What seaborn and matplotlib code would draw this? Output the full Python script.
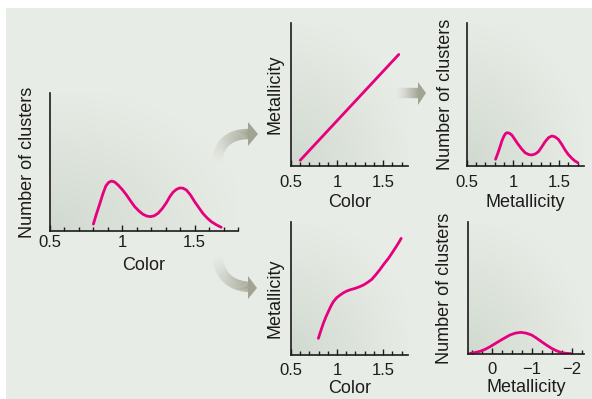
import numpy as np
import pandas as pd
import matplotlib
matplotlib.use("Agg")
import matplotlib.pyplot as plt
import seaborn as sns
from matplotlib.ticker import MultipleLocator
from matplotlib.patches import Rectangle, Polygon
from matplotlib.collections import LineCollection

# ---- data ----
# left panel: number of clusters vs color (bimodal)
color_left = [0.80, 0.82, 0.845, 0.866, 0.886, 0.905, 0.925, 0.947, 0.971, 1.0, 1.029,
              1.057, 1.086, 1.115, 1.143, 1.17, 1.194, 1.22, 1.247, 1.276, 1.305, 1.328,
              1.350, 1.375, 1.397, 1.42, 1.443, 1.472, 1.50, 1.53, 1.557, 1.587, 1.615,
              1.65, 1.684]
count_left = [0.05, 0.12, 0.20, 0.27, 0.326, 0.352, 0.362, 0.355, 0.333, 0.30, 0.261,
              0.218, 0.176, 0.145, 0.121, 0.108, 0.104, 0.110, 0.128, 0.162, 0.205, 0.248,
              0.280, 0.302, 0.312, 0.310, 0.297, 0.260, 0.213, 0.168, 0.128, 0.094, 0.068,
              0.045, 0.027]

# top middle: linear color-metallicity relation
color_lin = [0.60, 1.67]
metal_lin = [0.04, 0.78]

# top right: metallicity distribution (bimodal)
metal_top = [0.81, 0.835, 0.859, 0.88, 0.902, 0.92, 0.938, 0.96, 0.986, 1.015, 1.047,
             1.09, 1.13, 1.17, 1.203, 1.24, 1.275, 1.31, 1.348, 1.385, 1.42, 1.455,
             1.492, 1.53, 1.565, 1.60, 1.638, 1.67, 1.703]
count_top = [0.047, 0.09, 0.135, 0.178, 0.21, 0.228, 0.233, 0.229, 0.217, 0.19, 0.159,
             0.122, 0.093, 0.080, 0.077, 0.084, 0.10, 0.132, 0.17, 0.198, 0.21, 0.204,
             0.186, 0.15, 0.112, 0.08, 0.054, 0.036, 0.023]

# bottom middle: nonlinear color-metallicity relation
color_nl = [0.797, 0.825, 0.851, 0.878, 0.905, 0.932, 0.96, 0.995, 1.033, 1.07, 1.105,
            1.15, 1.196, 1.24, 1.286, 1.33, 1.377, 1.42, 1.467, 1.51, 1.558, 1.595,
            1.63, 1.665, 1.696]
metal_nl = [0.125, 0.185, 0.238, 0.285, 0.326, 0.366, 0.401, 0.43, 0.451, 0.468, 0.481,
            0.492, 0.501, 0.512, 0.526, 0.545, 0.569, 0.603, 0.644, 0.685, 0.727, 0.765,
            0.802, 0.84, 0.877]

# bottom right: metallicity distribution (unimodal)
metal_bot = [0.55, 0.425, 0.30, 0.175, 0.05, -0.075, -0.20, -0.325, -0.45, -0.58, -0.72,
             -0.855, -0.99, -1.115, -1.24, -1.365, -1.49, -1.615, -1.74, -1.855, -1.97]
count_bot = [0.004, 0.011, 0.02, 0.035, 0.055, 0.078, 0.101, 0.123, 0.144, 0.158, 0.164,
             0.158, 0.144, 0.12, 0.093, 0.067, 0.043, 0.024, 0.01, 0.005, 0.003]

color_ticks = [0.5, 1.0, 1.5]
color_labels = ["0.5", "1", "1.5"]
metal_ticks = [0, -1, -2]
metal_labels = ["0", "\u22121", "\u22122"]

BG = "#e8ece6"
SHADE = "#d0d9cf"
PINK = "#e6007e"
INK = "#1c1c1c"
ARROW = "#a2a493"

sns.set_style("ticks")
plt.rcParams["font.family"] = ["Liberation Sans", "DejaVu Sans"]

W, H = 592, 399
fig = plt.figure(figsize=(W / 100, H / 100), dpi=100)
fig.patch.set_facecolor("white")
fig.patches.append(Rectangle((6 / W, 0), 1, (H - 8) / H, transform=fig.transFigure,
                             facecolor=BG, edgecolor="none", zorder=-10))


def add_panel(x0, x1, ytop, ybot):
    return fig.add_axes([x0 / W, 1 - ybot / H, (x1 - x0) / W, (ybot - ytop) / H])


# radial shading from the lower-left corner of every panel
u, v = np.meshgrid(np.linspace(0, 1, 120), np.linspace(0, 1, 120))
t = np.clip(np.sqrt(u ** 2 + v ** 2) / 1.05, 0, 1) ** 0.9
c0 = np.array(matplotlib.colors.to_rgb(SHADE))
c1 = np.array(matplotlib.colors.to_rgb(BG))
shade_img = c0 * (1 - t[..., None]) + c1 * t[..., None]


def style(ax, x, y, xlim, ticks, labels, minor, xlabel, ylabel, tickpad, xpad, ypad):
    ax.set_facecolor("none")
    ax.imshow(shade_img, extent=[0, 1, 0, 1], transform=ax.transAxes, origin="lower",
              aspect="auto", zorder=0, interpolation="bilinear")
    sns.lineplot(x=x, y=y, ax=ax, color=PINK, linewidth=2.0, zorder=3,
                 solid_capstyle="round", solid_joinstyle="round", sort=False)
    ax.set_xlim(xlim)
    ax.set_ylim(0, 1)
    for s in ["top", "right"]:
        ax.spines[s].set_visible(False)
    for s in ["left", "bottom"]:
        ax.spines[s].set_color(INK)
        ax.spines[s].set_linewidth(1.2)
        ax.spines[s].set_zorder(4)
    ax.set_yticks([])
    ax.set_xticks(ticks, labels=labels)
    ax.xaxis.set_minor_locator(MultipleLocator(minor))
    ax.tick_params(axis="x", which="major", direction="in", length=4.5, width=1,
                   color=INK, labelsize=12, pad=tickpad, labelcolor=INK)
    ax.tick_params(axis="x", which="minor", direction="in", length=3, width=1, color=INK)
    ax.set_xlabel(xlabel, fontsize=13, labelpad=xpad, color=INK)
    ax.set_ylabel(ylabel, fontsize=13, labelpad=ypad, color=INK)


ax1 = add_panel(50, 238, 93, 231)
style(ax1, color_left, count_left, (0.5, 1.8), color_ticks, color_labels, 0.1,
      "Color", "Number of clusters", 3, 5, 10)

ax2 = add_panel(291, 408, 23, 166)
style(ax2, color_lin, metal_lin, (0.5, 1.77), color_ticks, color_labels, 0.1,
      "Color", "Metallicity", 6.5, 3, 5.5)

ax3 = add_panel(467, 584, 23, 166)
style(ax3, metal_top, count_top, (0.5, 1.77), color_ticks, color_labels, 0.1,
      "Metallicity", "Number of clusters", 6.5, 3, 9.5)

ax4 = add_panel(291, 408, 222, 355)
style(ax4, color_nl, metal_nl, (0.5, 1.77), color_ticks, color_labels, 0.1,
      "Color", "Metallicity", 5.5, 2, 5.5)
ax4.yaxis.set_label_coords(-0.06, 0.43)

ax5 = add_panel(468, 584, 222, 354)
style(ax5, metal_bot, count_bot, (0.6, -2.3), metal_ticks, metal_labels, 0.25,
      "Metallicity", "Number of clusters", 5.5, 2, 11)


# ---- gray arrows between the panels (pixel coords, y down) ----
def to_fig(pts):
    pts = np.asarray(pts, dtype=float)
    return np.column_stack([pts[:, 0] / W, 1 - pts[:, 1] / H])


def arrow(p0, p1, p2, head):
    s = np.linspace(0, 1, 60)[:, None]
    p0, p1, p2 = map(np.asarray, (p0, p1, p2))
    path = (1 - s) ** 2 * p0 + 2 * (1 - s) * s * p1 + s ** 2 * p2
    path = to_fig(path)
    segs = np.stack([path[:-1], path[1:]], axis=1)
    rgb = matplotlib.colors.to_rgb(ARROW)
    cols = [(*rgb, a) for a in np.linspace(0.0, 1.0, len(segs)) ** 1.3]
    lc = LineCollection(segs, colors=cols, linewidths=7.5, capstyle="butt",
                        transform=fig.transFigure, zorder=5)
    fig.add_artist(lc)
    fig.add_artist(Polygon(to_fig(head), closed=True, facecolor=ARROW, edgecolor="none",
                           transform=fig.transFigure, zorder=5))


arrow((217, 163), (219, 134), (249, 134), [(248, 122), (248, 146), (258, 134)])
arrow((217, 255), (220, 285), (249, 287), [(248, 276), (248, 299), (257, 288)])
arrow((396, 93), (407, 93), (419, 93), [(418, 82), (418, 105), (426, 93)])

fig.savefig("out.png", dpi=100)
